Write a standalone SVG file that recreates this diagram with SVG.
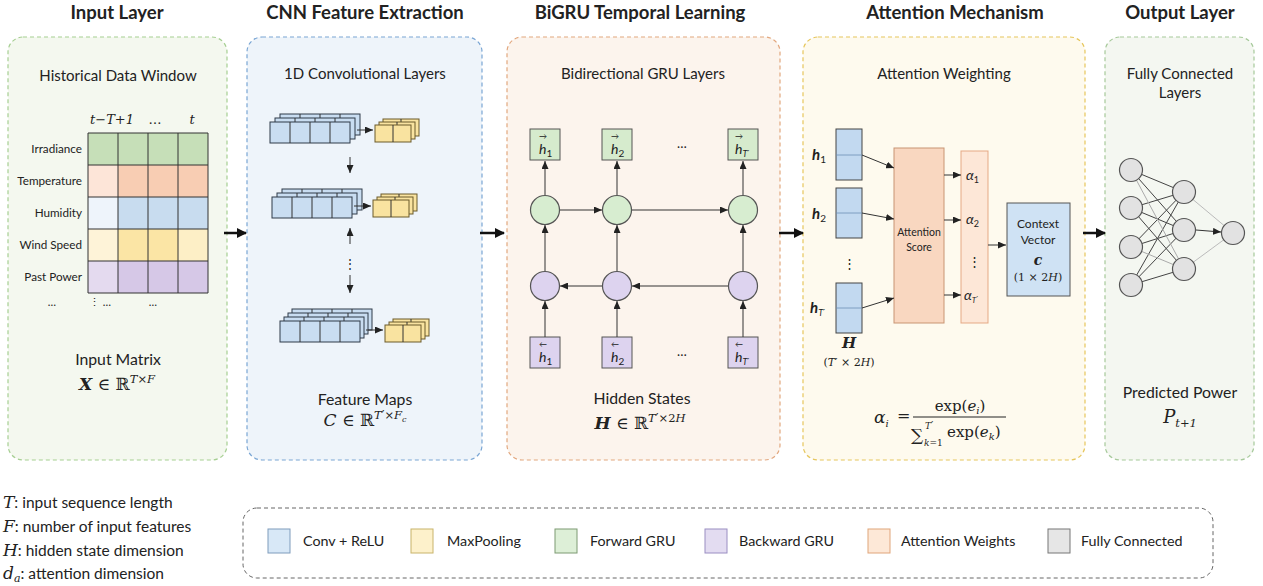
<svg xmlns="http://www.w3.org/2000/svg" width="1263" height="586" viewBox="0 0 1263 586">
<defs>
<style>
text{font-family:Lato,"Noto Sans","Liberation Sans",sans-serif;fill:#222}
.t{font-size:18.5px;font-weight:700;text-anchor:middle}
.s{font-size:15px;text-anchor:middle}
.s2{font-size:15.8px;text-anchor:middle}
.rl{font-size:11.7px;text-anchor:end}
.m{font-family:"DejaVu Serif","Liberation Serif",serif;font-style:italic}
.mr{font-family:"DejaVu Serif","Liberation Serif",serif}
.pr{font-family:"DejaVu Sans",sans-serif;font-style:normal}
.ctr{text-anchor:middle}
.panel{stroke-width:1.2;stroke-dasharray:4 3}
.g{stroke:#333;stroke-width:1;fill:none}
.cv{fill:#c9ddf1;stroke:#2f3a48;stroke-width:1}
.mp{fill:#f9e3a0;stroke:#6b5a2a;stroke-width:1}
.ln{stroke:#333;stroke-width:1;fill:none}
.big{stroke:#111;stroke-width:2.5;fill:none}
.nd{fill:#e2e2e2;stroke:#555;stroke-width:1.2}
.sw{stroke-width:1}
.lg{font-size:14.3px}
.nt{font-size:15.5px}
</style>
<marker id="ab" markerWidth="10" markerHeight="10" refX="9" refY="5" orient="auto" markerUnits="userSpaceOnUse"><path d="M0,0 L10,5 L0,10 z" fill="#111"/></marker>
<marker id="as" markerWidth="8" markerHeight="7" refX="8" refY="3.5" orient="auto" markerUnits="userSpaceOnUse"><path d="M0,0 L8,3.5 L0,7 z" fill="#222"/></marker>
<g id="cl"><rect class="cv" width="80" height="21"/><path class="g" d="M20,0v21M40,0v21M60,0v21"/></g>
<g id="pl"><rect class="mp" width="36" height="17"/><path class="g" d="M18,0v17"/></g>
</defs>
<rect width="1263" height="586" fill="#fff"/>

<!-- Panel 1: Input Layer -->
<g id="input-layer">
<text class="t" x="117" y="19">Input Layer</text>
<rect class="panel" x="8" y="37" width="219" height="423" rx="15" fill="#f4f8ef" stroke="#a6cf92"/>
<text class="s" x="118" y="81">Historical Data Window</text>
<text class="m" x="112" y="124" font-size="13" text-anchor="middle">t−T+1</text>
<text class="mr" x="155" y="124" font-size="13" text-anchor="middle">…</text>
<text class="m" x="192" y="124" font-size="13" text-anchor="middle">t</text>
<g>
<rect x="88" y="133" width="120" height="32" fill="#c6dfb8"/>
<rect x="88" y="165" width="30" height="32" fill="#fde5d8"/><rect x="118" y="165" width="90" height="32" fill="#f8cdb3"/>
<rect x="88" y="197" width="30" height="32" fill="#eef4fb"/><rect x="118" y="197" width="90" height="32" fill="#c8dcef"/>
<rect x="88" y="229" width="30" height="32" fill="#fef3d8"/><rect x="118" y="229" width="60" height="32" fill="#fbe5a5"/><rect x="178" y="229" width="30" height="32" fill="#fdefc6"/>
<rect x="88" y="261" width="30" height="32" fill="#e4daef"/><rect x="118" y="261" width="90" height="32" fill="#d6c8e7"/>
<path class="g" d="M88,133h120v160h-120z M118,133v160M148,133v160M178,133v160 M88,165h120M88,197h120M88,229h120M88,261h120"/>
</g>
<text class="rl" x="82" y="153">Irradiance</text>
<text class="rl" x="82" y="185">Temperature</text>
<text class="rl" x="82" y="217">Humidity</text>
<text class="rl" x="82" y="249">Wind Speed</text>
<text class="rl" x="82" y="281">Past Power</text>
<text x="52" y="306" font-size="11" fill="#777" class="ctr">…</text>
<text x="100" y="306" font-size="11" fill="#777" class="ctr">⋮ …</text>
<text x="153" y="306" font-size="11" fill="#777" class="ctr">…</text>
<text class="s2" x="118" y="365">Input Matrix</text>
<text class="mr" x="117" y="390" font-size="17" text-anchor="middle"><tspan font-style="italic" font-weight="bold">X</tspan> ∈ ℝ<tspan font-size="11.5" dy="-7" font-style="italic">T×F</tspan></text>
</g>

<!-- Panel 2: CNN -->
<g id="cnn">
<text class="t" x="365" y="19">CNN Feature Extraction</text>
<rect class="panel" x="247" y="37" width="235" height="423" rx="15" fill="#eef4fa" stroke="#7aa6d4"/>
<text class="s" x="365" y="79">1D Convolutional Layers</text>
<use href="#cl" x="280" y="114"/><use href="#cl" x="275" y="118"/><use href="#cl" x="270" y="122"/>
<use href="#pl" x="383" y="119"/><use href="#pl" x="379" y="122"/><use href="#pl" x="375" y="125"/>
<use href="#cl" x="282" y="189"/><use href="#cl" x="277" y="193"/><use href="#cl" x="272" y="197"/>
<use href="#pl" x="381" y="194"/><use href="#pl" x="377" y="197"/><use href="#pl" x="373" y="200"/>
<use href="#cl" x="292" y="309"/><use href="#cl" x="288" y="313"/><use href="#cl" x="284" y="317"/><use href="#cl" x="280" y="321"/>
<use href="#pl" x="393" y="319"/><use href="#pl" x="389" y="322"/><use href="#pl" x="385" y="325"/>
<text x="350" y="268" font-size="12" class="ctr" fill="#333">⋮</text>
<text class="s2" x="365" y="405">Feature Maps</text>
<text class="mr" x="365" y="426" font-size="17" text-anchor="middle"><tspan font-style="italic">C</tspan> ∈ ℝ<tspan font-size="11.5" dy="-7" font-style="italic">T</tspan><tspan class="pr" font-size="12">′</tspan><tspan font-size="11.5">×</tspan><tspan font-size="11.5" font-style="italic">F</tspan><tspan font-size="8" dy="3" font-style="italic">c</tspan></text>
</g>

<!-- Panel 3: BiGRU -->
<g id="bigru">
<text class="t" x="640" y="19">BiGRU Temporal Learning</text>
<rect class="panel" x="507" y="37" width="273" height="423" rx="15" fill="#fcf4ed" stroke="#e2a77e"/>
<text class="s" x="643" y="79">Bidirectional GRU Layers</text>
<g fill="#d6ebcd" stroke="#555" stroke-width="1">
<rect x="530" y="129" width="30" height="31"/><rect x="602" y="129" width="30" height="31"/><rect x="728" y="129" width="30" height="31"/>
</g>
<g fill="#d7edd0" stroke="#555" stroke-width="1.2">
<circle cx="545" cy="210" r="14.5"/><circle cx="617" cy="210" r="14.5"/><circle cx="743" cy="210" r="14.5"/>
</g>
<g fill="#ddd3ef" stroke="#555" stroke-width="1.2">
<circle cx="545" cy="286" r="14.5"/><circle cx="617" cy="286" r="14.5"/><circle cx="743" cy="286" r="14.5"/>
</g>
<g fill="#ddd3ef" stroke="#555" stroke-width="1">
<rect x="530" y="337" width="30" height="31"/><rect x="602" y="337" width="30" height="31"/><rect x="728" y="337" width="30" height="31"/>
</g>
<g class="m" font-size="14">
<text x="539" y="154">h<tspan font-size="10" dy="3" font-style="normal">1</tspan></text>
<text x="611" y="154">h<tspan font-size="10" dy="3" font-style="normal">2</tspan></text>
<text x="735" y="154">h<tspan font-size="9" dy="3">T</tspan><tspan class="pr" font-size="9">′</tspan></text>
<text x="539" y="362">h<tspan font-size="10" dy="3" font-style="normal">1</tspan></text>
<text x="611" y="362">h<tspan font-size="10" dy="3" font-style="normal">2</tspan></text>
<text x="735" y="362">h<tspan font-size="9" dy="3">T</tspan><tspan class="pr" font-size="9">′</tspan></text>
</g>
<g font-size="8" class="mr">
<text x="539" y="139">→</text><text x="611" y="139">→</text><text x="735" y="139">→</text>
<text x="539" y="347">←</text><text x="611" y="347">←</text><text x="735" y="347">←</text>
</g>
<text x="682" y="148" font-size="13" class="ctr">…</text>
<text x="682" y="356" font-size="13" class="ctr">…</text>
<text class="s2" x="642" y="404">Hidden States</text>
<text class="mr" x="640" y="429" font-size="17" text-anchor="middle"><tspan font-style="italic" font-weight="bold">H</tspan> ∈ ℝ<tspan font-size="11.5" dy="-7" font-style="italic">T</tspan><tspan class="pr" font-size="12">′</tspan><tspan font-size="11.5">×2</tspan><tspan font-size="11.5" font-style="italic">H</tspan></text>
</g>

<!-- Panel 4: Attention -->
<g id="attention">
<text class="t" x="955" y="19">Attention Mechanism</text>
<rect class="panel" x="803" y="37" width="282" height="423" rx="15" fill="#fefaee" stroke="#e6c65c"/>
<text class="s" x="944" y="79">Attention Weighting</text>
<g fill="#c2d9f0" stroke="#444" stroke-width="1">
<rect x="836" y="129" width="26" height="51"/><rect x="836" y="188" width="26" height="50"/><rect x="836" y="283" width="26" height="50"/>
</g>
<path d="M836,155h26M836,213h26M836,308h26" stroke="#6d8fb5" stroke-width="0.8"/>
<g class="m" font-size="15" font-weight="bold">
<text x="812" y="160">h<tspan font-size="10" dy="3" font-weight="normal" font-style="normal">1</tspan></text>
<text x="812" y="219">h<tspan font-size="10" dy="3" font-weight="normal" font-style="normal">2</tspan></text>
<text x="810" y="313">h<tspan font-size="9" dy="3" font-weight="normal">T</tspan><tspan class="pr" font-size="9" font-weight="normal">′</tspan></text>
</g>
<text x="849" y="268" font-size="13" class="ctr">⋮</text>
<text x="849" y="348" class="m ctr" font-size="15" font-weight="bold">H</text>
<text x="849" y="366" class="mr ctr" font-size="11">(<tspan font-style="italic">T</tspan>′ × 2<tspan font-style="italic">H</tspan>)</text>
<rect x="894" y="148" width="50" height="175" fill="#f9d7c0" stroke="#c89473" stroke-width="1"/>
<text x="919" y="236" font-size="10.5" class="ctr">Attention</text>
<text x="919" y="251" font-size="10.5" class="ctr">Score</text>
<rect x="961" y="151" width="27" height="172" fill="#fde7d7" stroke="#e5a985" stroke-width="1"/>
<g class="m" font-size="14">
<text x="966" y="180">α<tspan font-size="9" dy="3" font-style="normal">1</tspan></text>
<text x="966" y="224">α<tspan font-size="9" dy="3" font-style="normal">2</tspan></text>
<text x="964" y="300">α<tspan font-size="8" dy="3">T</tspan><tspan class="pr" font-size="8">′</tspan></text>
</g>
<text x="974" y="266" font-size="13" class="ctr">⋮</text>
<rect x="1007" y="203" width="63" height="93" fill="#cfe2f4" stroke="#555" stroke-width="1"/>
<text x="1038" y="228" font-size="12" class="ctr">Context</text>
<text x="1038" y="244" font-size="12" class="ctr">Vector</text>
<text x="1038" y="265" class="m ctr" font-size="14" font-weight="bold">c</text>
<text x="1038" y="281" class="mr ctr" font-size="11">(1 × 2<tspan font-style="italic">H</tspan>)</text>
<text x="874" y="423" class="m" font-size="17">α<tspan font-size="10" dy="4">i</tspan></text>
<text x="897" y="421" class="mr" font-size="16">=</text>
<text x="960" y="411" class="mr ctr" font-size="15">exp(<tspan font-style="italic">e</tspan><tspan font-size="10" dy="3" font-style="italic">i</tspan><tspan dy="-3">)</tspan></text>
<line x1="913" y1="417" x2="1006" y2="417" stroke="#222" stroke-width="1"/>
<text x="911" y="441" class="mr" font-size="17">∑</text>
<text x="925" y="429" class="m" font-size="9">T<tspan class="pr" font-size="10">′</tspan></text>
<text x="924" y="446" class="m" font-size="9">k<tspan font-style="normal">=1</tspan></text>
<text x="947" y="437" class="mr" font-size="15">exp(<tspan font-style="italic">e</tspan><tspan font-size="10" dy="3" font-style="italic">k</tspan><tspan dy="-3">)</tspan></text>
</g>

<!-- Panel 5: Output -->
<g id="output-layer">
<text class="t" x="1180" y="19">Output Layer</text>
<rect class="panel" x="1105" y="37" width="149" height="423" rx="15" fill="#f4f7f1" stroke="#a6c99a"/>
<text class="s" x="1180" y="79">Fully Connected</text>
<text class="s" x="1180" y="98">Layers</text>
<g stroke-width="1" fill="none">
<path stroke="#444" d="M1131,170L1184,192M1131,170L1184,230M1131,208L1184,192M1131,208L1184,230M1131,208L1184,269M1131,247L1184,192M1131,247L1184,230M1131,285L1184,192M1131,285L1184,230M1131,285L1184,269"/>
<path stroke="#aaa" d="M1131,170L1184,269M1131,247L1184,269"/>
<path stroke="#bbb" d="M1184,192L1233,233M1184,269L1233,233"/>
<path stroke="#333" d="M1196,230L1221,232" marker-end="url(#as)"/>
</g>
<g class="nd">
<circle cx="1131" cy="170" r="11.5"/><circle cx="1131" cy="208" r="11.5"/><circle cx="1131" cy="247" r="11.5"/><circle cx="1131" cy="285" r="11.5"/>
<circle cx="1184" cy="192" r="11.5"/><circle cx="1184" cy="230" r="11.5"/><circle cx="1184" cy="269" r="11.5"/>
<circle cx="1233" cy="233" r="11.5"/>
</g>
<text class="s2" x="1180" y="398">Predicted Power</text>
<text class="m ctr" x="1180" y="423" font-size="18">P<tspan font-size="11.5" dy="4">t+1</tspan></text>
</g>

<!-- Connectors -->
<g id="connectors">
<line class="big" x1="224" y1="233" x2="246" y2="233" marker-end="url(#ab)"/>
<line class="big" x1="480" y1="233" x2="504" y2="233" marker-end="url(#ab)"/>
<line class="big" x1="779" y1="233" x2="803" y2="233" marker-end="url(#ab)"/>
<line class="big" x1="1083" y1="233" x2="1105" y2="233" marker-end="url(#ab)"/>
<g class="ln" stroke-width="1.2">
<line x1="357" y1="130" x2="373" y2="130" marker-end="url(#as)"/>
<line x1="354" y1="206" x2="371" y2="206" marker-end="url(#as)"/>
<line x1="366" y1="330" x2="383" y2="330" marker-end="url(#as)"/>
<line x1="350" y1="157" x2="350" y2="173" marker-end="url(#as)"/>
<line x1="350" y1="244" x2="350" y2="228" marker-end="url(#as)"/>
<line x1="350" y1="275" x2="350" y2="293" marker-end="url(#as)"/>
</g>
<g class="ln" stroke="#555">
<line x1="545" y1="195" x2="545" y2="161" marker-end="url(#as)"/>
<line x1="617" y1="195" x2="617" y2="161" marker-end="url(#as)"/>
<line x1="743" y1="195" x2="743" y2="161" marker-end="url(#as)"/>
<line x1="545" y1="271" x2="545" y2="225" marker-end="url(#as)"/>
<line x1="617" y1="271" x2="617" y2="225" marker-end="url(#as)"/>
<line x1="743" y1="271" x2="743" y2="225" marker-end="url(#as)"/>
<line x1="545" y1="337" x2="545" y2="301" marker-end="url(#as)"/>
<line x1="617" y1="337" x2="617" y2="301" marker-end="url(#as)"/>
<line x1="743" y1="337" x2="743" y2="301" marker-end="url(#as)"/>
<line x1="560" y1="210" x2="602" y2="210" marker-end="url(#as)"/>
<line x1="632" y1="210" x2="728" y2="210" marker-end="url(#as)"/>
<line x1="728" y1="286" x2="632" y2="286" marker-end="url(#as)"/>
<line x1="602" y1="286" x2="560" y2="286" marker-end="url(#as)"/>
</g>
<g class="ln" stroke="#333">
<line x1="862" y1="155" x2="894" y2="168" marker-end="url(#as)"/>
<line x1="862" y1="213" x2="894" y2="219" marker-end="url(#as)"/>
<line x1="862" y1="308" x2="894" y2="298" marker-end="url(#as)"/>
<line x1="944" y1="175" x2="961" y2="175" marker-end="url(#as)"/>
<line x1="944" y1="220" x2="961" y2="220" marker-end="url(#as)"/>
<line x1="944" y1="295" x2="961" y2="295" marker-end="url(#as)"/>
<line x1="988" y1="245" x2="1006" y2="245" marker-end="url(#as)"/>
</g>
</g>

<!-- Notation -->
<g id="notation" class="nt">
<text x="3" y="508"><tspan class="m" font-size="17">T</tspan>: input sequence length</text>
<text x="3" y="532"><tspan class="m" font-size="17">F</tspan>: number of input features</text>
<text x="3" y="556"><tspan class="m" font-size="17">H</tspan>: hidden state dimension</text>
<text x="3" y="579"><tspan class="m" font-size="17">d</tspan><tspan class="m" font-size="11" dy="3">a</tspan><tspan dy="-3">: attention dimension</tspan></text>
</g>

<!-- Legend -->
<g id="legend">
<rect x="243" y="508" width="970" height="70" rx="14" fill="none" stroke="#666" stroke-width="1" stroke-dasharray="4 3"/>
<rect class="sw" x="268" y="529" width="22" height="24" fill="#d8e8f7" stroke="#7f9cbc"/>
<text class="lg" x="303" y="546">Conv + ReLU</text>
<rect class="sw" x="411" y="529" width="22" height="24" fill="#fdf1cb" stroke="#c8b36a"/>
<text class="lg" x="447" y="546">MaxPooling</text>
<rect class="sw" x="555" y="529" width="22" height="24" fill="#ddefd7" stroke="#7d9a72"/>
<text class="lg" x="590" y="546">Forward GRU</text>
<rect class="sw" x="705" y="529" width="22" height="24" fill="#e3dcf1" stroke="#9a8ec2"/>
<text class="lg" x="739" y="546">Backward GRU</text>
<rect class="sw" x="868" y="529" width="22" height="24" fill="#fde8d7" stroke="#e0a57a"/>
<text class="lg" x="901" y="546">Attention Weights</text>
<rect class="sw" x="1048" y="529" width="22" height="24" fill="#e6e6e6" stroke="#777"/>
<text class="lg" x="1081" y="546">Fully Connected</text>
</g>
</svg>
